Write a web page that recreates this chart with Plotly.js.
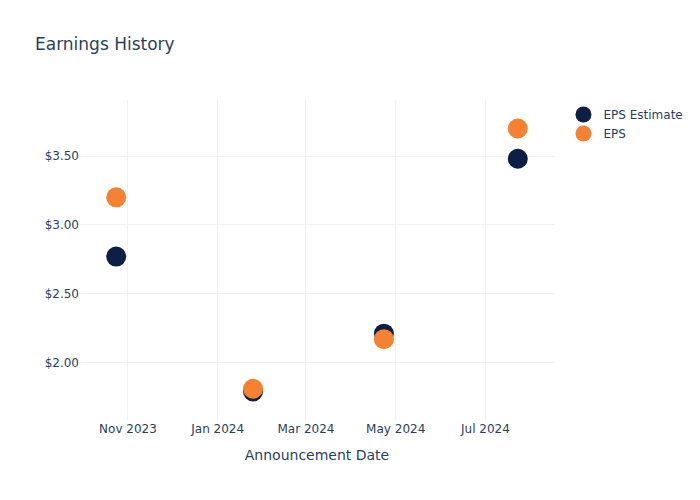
<!DOCTYPE html>
<html>
<head>
<meta charset="utf-8">
<script src="https://cdn.plot.ly/plotly-3.0.1.min.js"></script>
<style>body{margin:0;padding:0;}#chart{width:700px;height:500px;}</style>
</head>
<body>
<div id="chart"></div>
<script>
var dates = ["2023-10-24", "2024-01-25", "2024-04-23", "2024-07-23"];
var epsEstimate = [2.77, 1.79, 2.21, 3.48];
var epsActual = [3.20, 1.81, 2.17, 3.70];

var traces = [
  {x: dates, y: epsEstimate, name: "EPS Estimate", type: "scatter", mode: "markers",
   marker: {color: "#0d1f45", size: 20}},
  {x: dates, y: epsActual, name: "EPS", type: "scatter", mode: "markers",
   marker: {color: "#f58233", size: 20}}
];
var layout = {
  width: 700, height: 500,
  template: "plotly_white",
  paper_bgcolor: "white", plot_bgcolor: "white",
  font: {family: "'DejaVu Sans', verdana, arial, sans-serif", color: "#2a3f5f", size: 12},
  title: {text: "Earnings History", x: 0.05, font: {size: 17}},
  xaxis: {title: {text: "Announcement Date", standoff: 15}, type: "date", gridcolor: "#EEF1F6", zeroline: false, showline: false, dtick: "M2", tickformat: "%b %Y", automargin: true},
  yaxis: {tickprefix: "$", tickformat: ".2f", gridcolor: "#EEF1F6", zeroline: false, dtick: 0.5},
  legend: {x: 1.02, y: 1, font: {size: 12}},
  margin: {l: 80, r: 80, t: 100, b: 80}
};
Plotly.newPlot("chart", traces, layout, {displayModeBar: false});
</script>
</body>
</html>
